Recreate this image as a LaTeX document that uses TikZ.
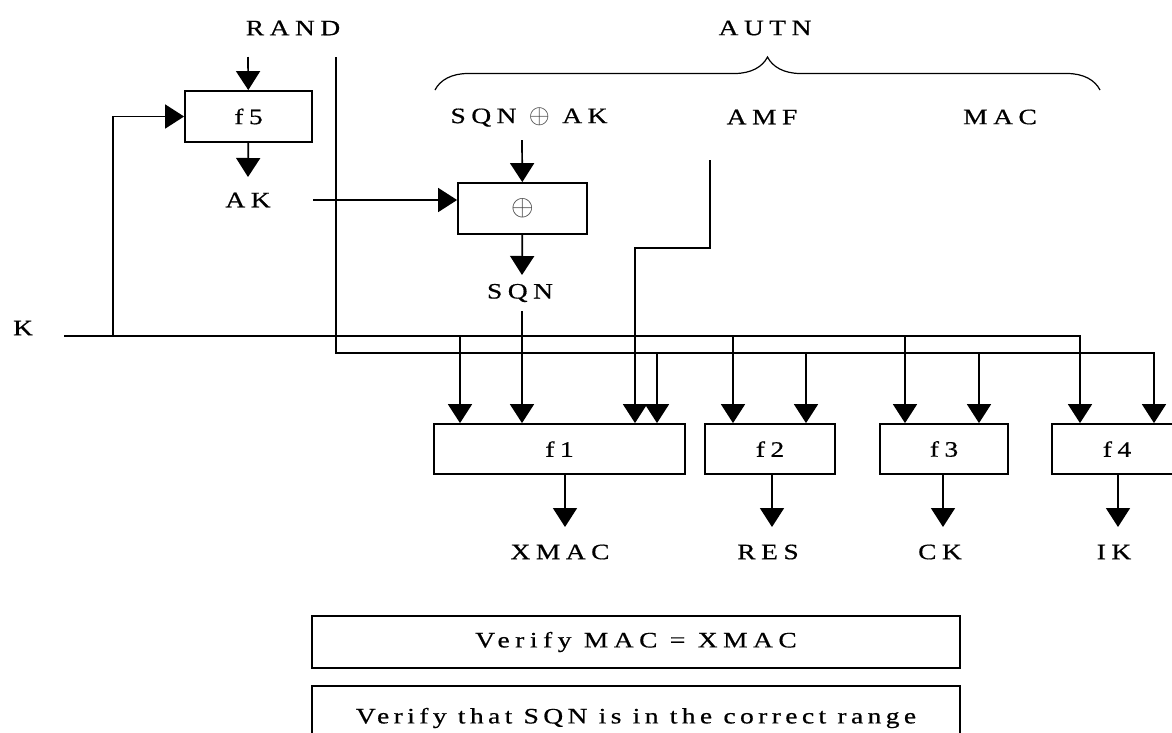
\documentclass[tikz,border=0pt]{standalone}
\usepackage{fontspec}
\setmainfont{Liberation Serif}
\newfontfamily\labelfont{Liberation Serif}[FakeStretch=1.25, LetterSpace=25, FakeBold=0.6]
\newfontfamily\notefont{Liberation Serif}[FakeStretch=1.25, LetterSpace=20, FakeBold=0.6]
\usetikzlibrary{arrows.meta,decorations.pathreplacing}

\begin{document}
\begin{tikzpicture}[x=1pt, y=-1pt,
  every node/.style={font=\labelfont\fontsize{22}{26}\selectfont, inner sep=0pt},
  fbox/.style={draw, line width=1.8pt, minimum height=51pt},
  arr/.style={-{Triangle[length=19pt,width=24pt]}, line width=1.7pt},
  wire/.style={line width=1.7pt}]

  \clip (0,0) rectangle (1172,732);
  \useasboundingbox (0,0) rectangle (1172,732);

  %% Inputs and AUTN fields
  \node (rand) at (293,28) {RAND};
  \node (autn) at (765,28) {AUTN};
  \node (sqnak) at (529,117) {SQN {\color{black!75}\scalebox{1.3}{$\oplus$}} AK};
  \node (amf) at (762,117) {AMF};
  \node (mac) at (1000,117) {MAC};
  \node (k) at (23,328) {K};

  % brace over AUTN
  \draw[decorate, decoration={brace, amplitude=33pt}, line width=1.2pt]
    (435,90) -- (1100,90);

  %% f5 and the XOR that recovers SQN
  \node[fbox, minimum width=127pt] (f5) at (248.5,116.5) {f5};
  \node (ak) at (248,200) {AK};
  \node[fbox, minimum width=129pt, text=black!75] (xor) at (522.5,208.5) {\scalebox{1.4}{$\oplus$}};
  \node (sqn) at (520,293) {SQN};

  %% Functions f1 .. f4
  \node[fbox, minimum width=251pt, minimum height=50pt] (f1) at (559.5,449) {f1};
  \node[fbox, minimum width=130pt, minimum height=50pt] (f2) at (770,449) {f2};
  \node[fbox, minimum width=128pt, minimum height=50pt] (f3) at (944,449) {f3};
  \node[fbox, minimum width=130pt, minimum height=50pt] (f4) at (1117,449) {f4};

  \node (xmac) at (560,552) {XMAC};
  \node (res) at (768,552) {RES};
  \node (ck) at (940,552) {CK};
  \node (ik) at (1114,552) {IK};

  %% Checks
  \node[fbox, minimum width=648pt, minimum height=52pt] (chkmac) at (636,642) {Verify MAC = XMAC};
  \node[fbox, minimum width=648pt, minimum height=64pt,
        font=\notefont\fontsize{22}{26}\selectfont] (chksqn) at (636,718)
        {Verify that SQN is in the correct range};

  %% Wiring points
  \coordinate (randin) at (248,57);
  \coordinate (randtop) at (336,57);
  \coordinate (akin) at (248,177);
  \coordinate (akline) at (313,200);
  \coordinate (sqnakout) at (522,140);
  \coordinate (sqnin) at (522,275);
  \coordinate (sqnout) at (522,311);
  \coordinate (kstart) at (64,336);
  \coordinate (kloop) at (113,336);
  \coordinate (randbus) at (336,353);
  \coordinate (amfout) at (710,160);
  \coordinate (amfbend) at (710,248);
  \coordinate (amfdrop) at (635,248);

  % f5 path
  \draw[arr] (randin) -- (f5);
  \draw[arr] (f5) -- (akin);
  \draw[arr] (kloop) |- (f5.west);
  \draw[arr] (akline) -- (akline -| xor.west);
  \draw[arr] (sqnakout) -- (xor);
  \draw[arr] (xor) -- (sqnin);
  \draw[arr] (sqnout) -- (sqnout |- f1.north);
  \draw[arr] (amfout) -- (amfbend) -- (amfdrop) -- (amfdrop |- f1.north);

  % K bus
  \draw[arr] (kstart) -| (1080,0 |- f4.north);
  \foreach \x/\f in {460/f1, 733/f2, 905/f3}
    \draw[arr] (\x,336) -- (\x,0 |- \f.north);

  % RAND bus
  \draw[arr] (randtop) -- (randbus) -| (1154,0 |- f4.north);
  \foreach \x/\f in {657/f1, 806/f2, 979/f3}
    \draw[arr] (\x,353) -- (\x,0 |- \f.north);

  % outputs
  \foreach \x/\f in {565/f1, 772/f2, 943/f3, 1118/f4}
    \draw[arr] (\x,0 |- \f.south) -- (\x,527);

\end{tikzpicture}
\end{document}
